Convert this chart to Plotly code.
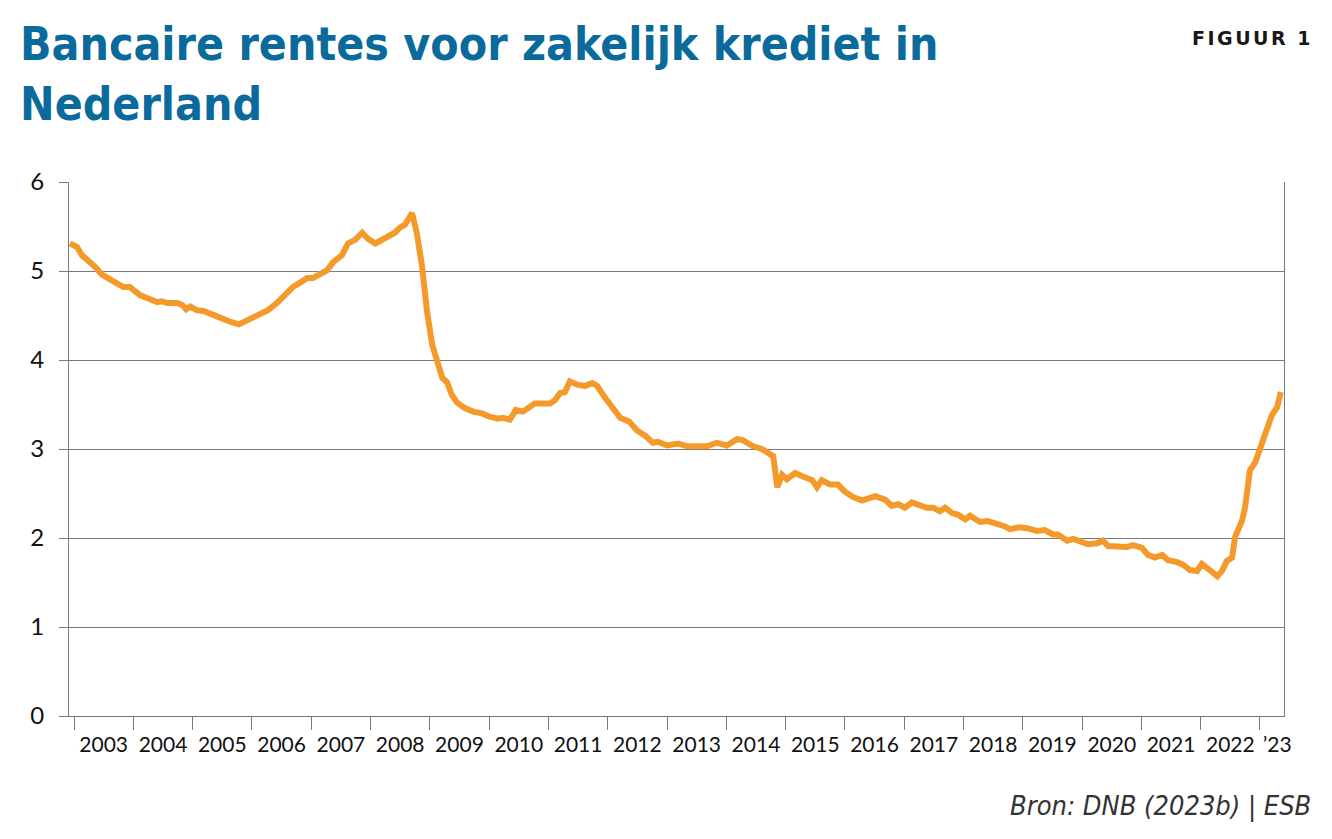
import plotly.graph_objects as go

# decimal year, rate (%)
t = [2002.93, 2003.05, 2003.13, 2003.27, 2003.35, 2003.47, 2003.57, 2003.69, 2003.83, 2003.94,
     2004.11, 2004.25, 2004.40, 2004.48, 2004.57, 2004.74, 2004.82, 2004.89, 2004.96,
     2005.07, 2005.18, 2005.34, 2005.50, 2005.63, 2005.78, 2005.92,
     2006.02, 2006.14, 2006.27, 2006.42, 2006.56, 2006.69, 2006.84, 2006.93,
     2007.03, 2007.15, 2007.27, 2007.37, 2007.52, 2007.62, 2007.74, 2007.86, 2007.96,
     2008.08, 2008.19, 2008.33, 2008.41, 2008.50, 2008.58, 2008.70, 2008.78, 2008.87, 2008.95,
     2009.04, 2009.12, 2009.21, 2009.29, 2009.37, 2009.46, 2009.59, 2009.73, 2009.88,
     2010.02, 2010.15, 2010.23, 2010.35, 2010.45, 2010.57, 2010.77,
     2011.03, 2011.11, 2011.20, 2011.28, 2011.36, 2011.50, 2011.62, 2011.74, 2011.82, 2011.92,
     2012.09, 2012.21, 2012.36, 2012.49, 2012.63, 2012.76, 2012.85,
     2013.00, 2013.19, 2013.34, 2013.67, 2013.84,
     2014.01, 2014.18, 2014.28, 2014.45, 2014.60, 2014.69, 2014.79, 2014.86, 2014.94,
     2015.02, 2015.16, 2015.29, 2015.45, 2015.53, 2015.61, 2015.75, 2015.88,
     2016.00, 2016.14, 2016.29, 2016.39, 2016.51, 2016.68, 2016.79, 2016.90,
     2017.01, 2017.13, 2017.23, 2017.38, 2017.49, 2017.60, 2017.69, 2017.81, 2017.91,
     2018.03, 2018.11, 2018.28, 2018.41, 2018.62, 2018.70, 2018.78, 2018.95,
     2019.07, 2019.24, 2019.37, 2019.51, 2019.59, 2019.75, 2019.85, 2019.97,
     2020.10, 2020.25, 2020.35, 2020.44, 2020.64, 2020.76, 2020.86,
     2021.01, 2021.11, 2021.23, 2021.35, 2021.45, 2021.60, 2021.70, 2021.82, 2021.94,
     2022.02, 2022.11, 2022.19, 2022.28, 2022.36, 2022.44, 2022.53, 2022.58, 2022.70, 2022.75,
     2022.83, 2022.92, 2023.00, 2023.12, 2023.20, 2023.29, 2023.35]

rate = [5.31, 5.27, 5.18, 5.10, 5.05, 4.96, 4.92, 4.88, 4.82, 4.82,
        4.73, 4.69, 4.65, 4.66, 4.64, 4.64, 4.62, 4.57, 4.60,
        4.56, 4.55, 4.51, 4.46, 4.43, 4.40, 4.45,
        4.47, 4.52, 4.56, 4.64, 4.73, 4.82, 4.88, 4.92,
        4.92, 4.97, 5.01, 5.10, 5.18, 5.31, 5.35, 5.43, 5.36,
        5.31, 5.35, 5.40, 5.43, 5.49, 5.52, 5.65, 5.43, 5.05, 4.56,
        4.17, 3.97, 3.80, 3.75, 3.61, 3.52, 3.46, 3.42, 3.40,
        3.36, 3.34, 3.35, 3.33, 3.44, 3.42, 3.51,
        3.51, 3.55, 3.63, 3.64, 3.76, 3.72, 3.71, 3.74, 3.71, 3.61,
        3.46, 3.35, 3.31, 3.21, 3.15, 3.07, 3.08,
        3.04, 3.06, 3.03, 3.03, 3.07,
        3.04, 3.11, 3.10, 3.03, 3.00, 2.96, 2.92, 2.57, 2.71,
        2.66, 2.73, 2.69, 2.65, 2.57, 2.65, 2.60, 2.60,
        2.52, 2.46, 2.42, 2.44, 2.47, 2.43, 2.36, 2.38,
        2.34, 2.40, 2.38, 2.34, 2.34, 2.30, 2.34, 2.28, 2.26,
        2.21, 2.25, 2.18, 2.19, 2.15, 2.13, 2.10, 2.12,
        2.11, 2.08, 2.09, 2.04, 2.04, 1.97, 1.99, 1.96,
        1.93, 1.94, 1.97, 1.91, 1.91, 1.90, 1.92,
        1.89, 1.81, 1.78, 1.81, 1.75, 1.73, 1.70, 1.64, 1.63,
        1.71, 1.65, 1.62, 1.57, 1.63, 1.74, 1.78, 2.01, 2.20, 2.35,
        2.76, 2.85, 3.01, 3.27, 3.38, 3.47, 3.64]

year_starts = list(range(2003, 2024))
label_pos = [y + 0.5 for y in range(2003, 2023)] + [2023.29]
label_text = [str(y) for y in range(2003, 2023)] + ["\u201923"]

title_lines = ["Bancaire rentes voor zakelijk krediet in", "Nederland"]
figure_label = "FIGUUR 1"
source_text = "Bron: DNB (2023b) | ESB"

GRID = "#7a7a7a"
ORANGE = "#F39A2A"
BLUE = "#0B6A9C"
TICKFONT = "Lato, Open Sans, sans-serif"
NARROW = "DejaVu Sans Condensed, Liberation Sans Narrow, sans-serif"

fig = go.Figure()
fig.add_trace(go.Scatter(x=t, y=rate, mode="lines",
                         line=dict(color=ORANGE, width=6, shape="linear"),
                         hoverinfo="x+y", showlegend=False))

# the page body has an 8px default margin, so the figure sits at (8, 8)
OFF = 8
W, H = 1332 - OFF, 839 - OFF
L = 69 - OFF          # plot-area left edge in screen px = 69
T = 182 - OFF         # top edge = 182
R = W - (1284 - OFF)  # right edge = 1284
B = H - (716 - OFF)   # bottom edge = 716
pw, ph = W - L - R, H - T - B

def px(x):  # screen x -> paper
    return (x - 69) / pw

def py(y):  # screen y -> paper
    return (716 - y) / ph

fig.update_layout(
    width=W, height=H,
    margin=dict(l=L, r=R, t=T, b=B, pad=0),
    paper_bgcolor="white", plot_bgcolor="white",
    xaxis=dict(
        range=[2002.915, 2023.405], type="linear",
        tickmode="array", tickvals=label_pos, ticktext=label_text,
        ticks="", showgrid=False, zeroline=False,
        showline=True, linecolor=GRID, linewidth=1.3,
        tickfont=dict(family=TICKFONT, size=21, color="#111111"),
        ticklabelstandoff=10,
        minor=dict(tickmode="array", tickvals=year_starts, ticks="outside",
                   ticklen=13, tickwidth=1.3, tickcolor=GRID, showgrid=False),
        fixedrange=True,
    ),
    yaxis=dict(
        range=[0, 6], tickmode="linear", tick0=0, dtick=1,
        showgrid=True, gridcolor=GRID, gridwidth=1.3, zeroline=False,
        showline=True, linecolor=GRID, linewidth=1.3, mirror=True,
        ticks="outside", ticklen=9, tickwidth=1.3, tickcolor=GRID,
        tickfont=dict(family=TICKFONT, size=24, color="#111111"),
        ticklabelstandoff=10,
        fixedrange=True,
    ),
    annotations=[
        dict(text=title_lines[0], xref="paper", yref="paper", x=px(18), y=py(15),
             xanchor="left", yanchor="top", showarrow=False,
             font=dict(family=NARROW, size=46, color=BLUE, weight="bold")),
        dict(text=title_lines[1], xref="paper", yref="paper", x=px(18), y=py(75),
             xanchor="left", yanchor="top", showarrow=False,
             font=dict(family=NARROW, size=46, color=BLUE, weight="bold")),
        dict(text='<span style="letter-spacing:2.5px">' + figure_label + '</span>',
             xref="paper", yref="paper", x=px(1315), y=py(25),
             xanchor="right", yanchor="top", showarrow=False,
             font=dict(family="DejaVu Sans, sans-serif", size=19, color="#1a1718", weight="bold")),
        dict(text=source_text, xref="paper", yref="paper", x=px(1313), y=py(806),
             xanchor="right", yanchor="middle", showarrow=False,
             font=dict(family=NARROW, size=27, color="#333333", style="italic")),
    ],
)

fig.write_html("out.html")
